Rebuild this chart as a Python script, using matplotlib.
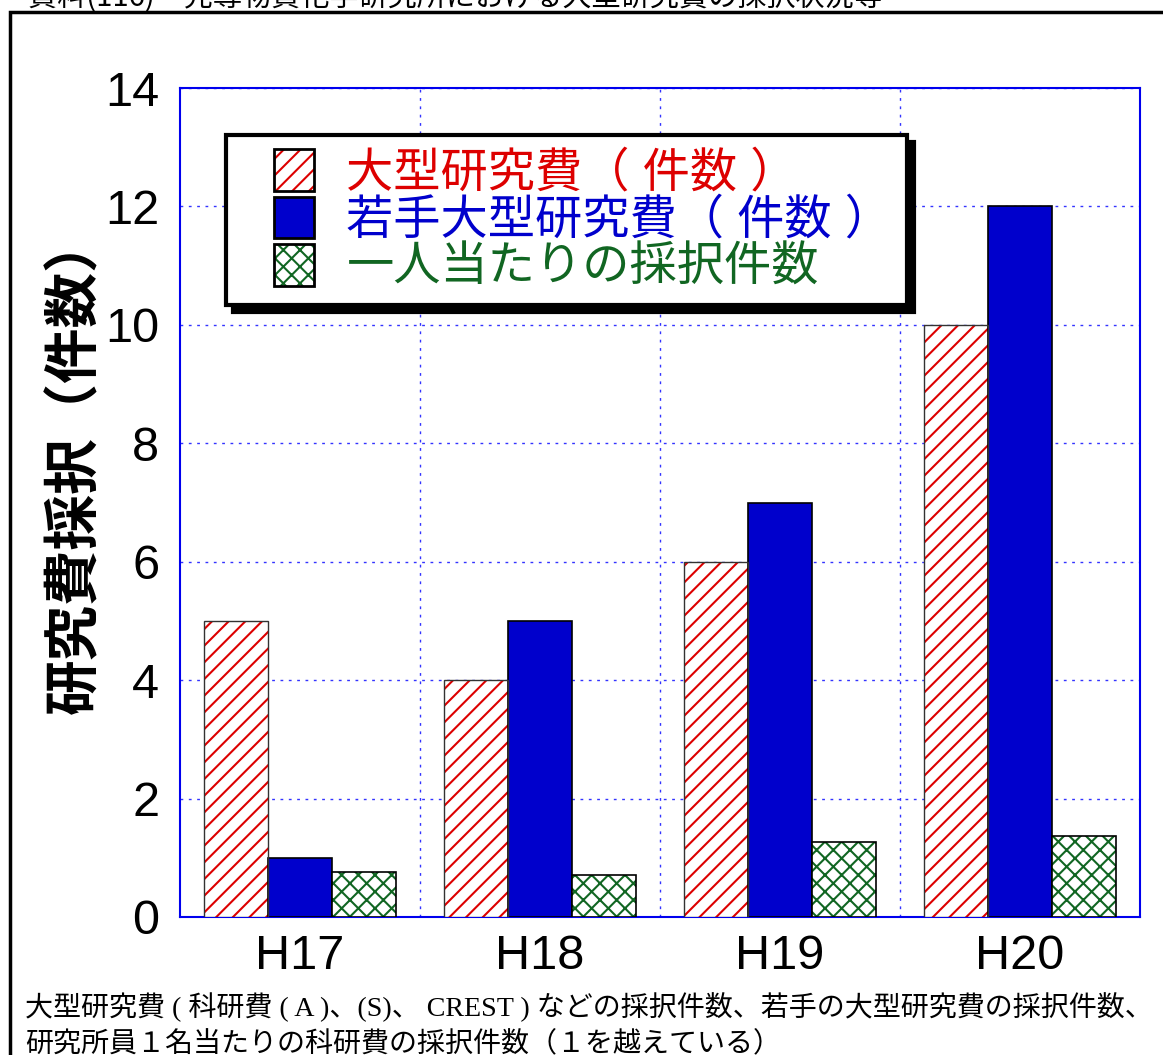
import matplotlib
matplotlib.use('Agg')
import matplotlib.pyplot as plt
from matplotlib.patches import Rectangle, Patch
from matplotlib.legend_handler import HandlerBase
import numpy as np

plt.rcParams['font.family'] = ['Liberation Sans', 'Noto Sans CJK JP']
plt.rcParams['hatch.linewidth'] = 1.5

years = ['H17', 'H18', 'H19', 'H20']
large_grants = [5, 4, 6, 10]
young_large_grants = [1, 5, 7, 12]
per_person = [0.76, 0.71, 1.27, 1.37]

labels = ['大型研究費（ 件数 ）', '若手大型研究費（ 件数 ）', '一人当たりの採択件数']
text_colors = ['#dd0000', '#0000cc', '#116622']
red, blue, green = '#dd0000', '#0000cc', '#116622'


class BoxHandler(HandlerBase):
    # draws a small hatched/filled box, shifted right inside the handle area
    def __init__(self, face, hcolor, hatch):
        super().__init__()
        self.face, self.hcolor, self.hatch = face, hcolor, hatch

    def create_artists(self, legend, orig_handle, xdescent, ydescent, width, height, fontsize, trans):
        bw, bh, shift = 29, 30, 24
        x0 = -xdescent + shift
        y0 = -ydescent + (height - bh) / 2
        back = Rectangle((x0, y0), bw, bh, facecolor=self.face, edgecolor=self.hcolor,
                         hatch=self.hatch, linewidth=0, transform=trans)
        edge = Rectangle((x0, y0), bw, bh, fill=False, edgecolor='black', linewidth=2, transform=trans)
        return [back, edge]


fig = plt.figure(figsize=(11.63, 10.55), dpi=100)
ax = fig.add_axes([180 / 1163, 1 - 917 / 1055, 960 / 1163, 829 / 1055])

x = np.arange(len(years))
w = 0.267

ax.bar(x - w, large_grants, w, color='white', edgecolor=red, hatch='//', linewidth=0, zorder=3)
ax.bar(x - w, large_grants, w, fill=False, edgecolor='#333333', linewidth=1, zorder=4)
ax.bar(x, young_large_grants, w, color=blue, edgecolor='black', linewidth=1.2, zorder=3)
ax.bar(x + w, per_person, w, color='white', edgecolor=green, hatch='xx', linewidth=0, zorder=3)
ax.bar(x + w, per_person, w, fill=False, edgecolor='black', linewidth=1.2, zorder=4)

ax.set_xlim(-0.5, 3.5)
ax.set_ylim(0, 14)
ax.set_yticks(range(0, 15, 2))
ax.set_xticks(x)
ax.set_xticklabels(years)
ax.set_xticks([0.5, 1.5, 2.5], minor=True)
ax.tick_params(axis='both', which='both', length=0, labelsize=35)
ax.tick_params(axis='y', pad=15)
ax.tick_params(axis='x', pad=12)
ax.grid(True, axis='y', which='major', color='#3333ff', linestyle=(0, (2, 4)), linewidth=1)
ax.grid(True, axis='x', which='minor', color='#3333ff', linestyle=(0, (2, 4)), linewidth=1)
for s in ax.spines.values():
    s.set_color('#0000ee')
    s.set_linewidth(1.5)
ax.set_axisbelow(True)

ax.set_ylabel('研究費採択（件数）', fontsize=40, fontweight='bold', va='center',
              family=['Noto Sans CJK JP'])
ax.yaxis.set_label_coords(-105 / 960, (917 - 464) / 829)

handles = [Patch(), Patch(), Patch()]
leg = ax.legend(handles, labels,
                handler_map={handles[0]: BoxHandler('white', red, '//'),
                             handles[1]: BoxHandler(blue, blue, None),
                             handles[2]: BoxHandler('white', green, 'xx')},
                loc='upper left', bbox_to_anchor=(46 / 960, 1 - 47 / 829), fontsize=34,
                frameon=True, fancybox=False, edgecolor='black', framealpha=1,
                shadow={'ox': 5, 'oy': -5, 'facecolor': 'black', 'edgecolor': 'black', 'alpha': 1},
                handlelength=2.1, handleheight=1.0, handletextpad=0.15, labelspacing=0.0,
                borderpad=0.3, borderaxespad=0)
leg.get_frame().set_linewidth(3)
for t, c in zip(leg.get_texts(), text_colors):
    t.set_color(c)
leg.set_zorder(10)

# outer frame
fig.patches.append(Rectangle((10 / 1163, -0.1), 1.2, 1.1 - 12 / 1055, transform=fig.transFigure,
                             fill=False, edgecolor='black', linewidth=2.5))

fig.text(28 / 1163, 1 - 6 / 1055, '資料(116)　先導物質化学研究所における大型研究費の採択状況等',
         fontsize=21, va='baseline', ha='left', family=['Noto Sans CJK JP'])

cap_font = ['Liberation Serif', 'Noto Sans CJK JP']
fig.text(25 / 1163, 1 - 1016 / 1055, '大型研究費 ( 科研費 ( A )、(S)、 CREST ) などの採択件数、若手の大型研究費の採択件数、',
         fontsize=20.2, va='baseline', ha='left', family=cap_font)
fig.text(25 / 1163, 1 - 1051 / 1055, '研究所員１名当たりの科研費の採択件数（１を越えている）',
         fontsize=20.2, va='baseline', ha='left', family=cap_font)

fig.savefig('out.png', dpi=100)
